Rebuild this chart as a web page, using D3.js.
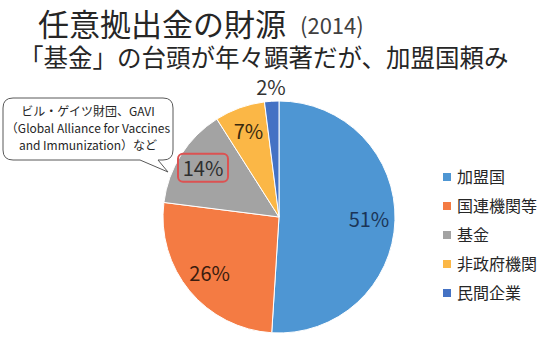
<!DOCTYPE html>
<html>
<head>
<meta charset="utf-8">
<script src="https://cdn.jsdelivr.net/npm/d3@7"></script>
<style>
body { margin: 0; background: #fff; }
svg { display: block; font-family: "Noto Sans CJK JP", "Noto Sans", sans-serif; }
.title { font-size: 31px; fill: #262626; }
.year { font-size: 22px; fill: #404040; }
.subtitle { font-size: 24.5px; fill: #262626; }
.legendText { font-size: 16px; fill: #262626; }
.pctLabel { font-size: 20px; }
.noteText { font-size: 12px; fill: #262626; }
</style>
</head>
<body>
<div id="chart"></div>
<script>
/* data */
var categories = ["加盟国", "国連機関等", "基金", "非政府機関", "民間企業"]
var shares = [51, 26, 14, 7, 2]
var colors = ["#4E96D3", "#F47B43", "#A3A3A3", "#FBB746", "#4472C4"]
var labelColors = ["#1B3557", "#3A1C0E", "#2E2E2E", "#3A2A0E", "#333333"]
var noteLines = ["ビル・ゲイツ財団、GAVI", "（Global Alliance for Vaccines", "and Immunization）など"]

var width = 557, height = 351
var cx = 279, cy = 217, radius = 116

var svg = d3.select("#chart").append("svg")
  .attr("width", width)
  .attr("height", height)

/* titles */
svg.append("text")
  .attr("class", "title")
  .attr("x", 38)
  .attr("y", 36)
  .text("任意拠出金の財源")
svg.append("text")
  .attr("class", "year")
  .attr("x", 300)
  .attr("y", 34)
  .text("(2014)")
svg.append("text")
  .attr("class", "subtitle")
  .attr("x", 19)
  .attr("y", 67)
  .text("「基金」の台頭が年々顕著だが、加盟国頼み")

/* pie */
var pie = d3.pie().sort(null).value(function(d) { return d })
var arcs = pie(shares)
var arc = d3.arc().innerRadius(0).outerRadius(radius)
var inLabelArc = d3.arc().innerRadius(90).outerRadius(90)
var outLabelArc = d3.arc().innerRadius(129).outerRadius(129)

var pieG = svg.append("g")
  .attr("transform", "translate(" + cx + "," + cy + ")")

pieG.selectAll("path")
  .data(arcs)
  .enter()
  .append("path")
  .attr("d", arc)
  .attr("fill", function(d, i) { return colors[i] })
  .attr("stroke", "#fff")
  .attr("stroke-width", 1)

function labelPos(d) {
  return d.data < 5 ? outLabelArc.centroid(d) : inLabelArc.centroid(d)
}

/* red highlight box around the fund share */
var fundIdx = categories.indexOf("基金")
var fundPos = labelPos(arcs[fundIdx])
pieG.append("rect")
  .attr("x", fundPos[0] - 25)
  .attr("y", fundPos[1] - 15)
  .attr("width", 50)
  .attr("height", 28)
  .attr("rx", 5)
  .attr("fill", "none")
  .attr("stroke", "#DC5252")
  .attr("stroke-width", 2)

pieG.selectAll(".pctLabel")
  .data(arcs)
  .enter()
  .append("text")
  .attr("class", "pctLabel")
  .attr("x", function(d) { return labelPos(d)[0] })
  .attr("y", function(d) { return labelPos(d)[1] })
  .attr("dy", "0.35em")
  .attr("text-anchor", "middle")
  .attr("fill", function(d, i) { return labelColors[i] })
  .text(function(d) { return d.data + "%" })

/* callout */
var callout = svg.append("g")
callout.append("path")
  .attr("d", "M13,98 H163 Q173,98 173,108 V150 Q173,160 163,160 H158 L168,172 L140,160 H13 Q3,160 3,150 V108 Q3,98 13,98 Z")
  .attr("fill", "#fff")
  .attr("stroke", "#595959")
  .attr("stroke-width", 1)
callout.selectAll("text")
  .data(noteLines)
  .enter()
  .append("text")
  .attr("class", "noteText")
  .attr("x", 88)
  .attr("y", function(d, i) { return 116 + i * 17 })
  .attr("text-anchor", "middle")
  .text(function(d) { return d })

/* legend */
var legendY = d3.scalePoint()
  .domain(categories)
  .range([177, 293])
var legend = svg.selectAll(".legendItem")
  .data(categories)
  .enter()
  .append("g")
  .attr("class", "legendItem")
  .attr("transform", function(d) { return "translate(443," + legendY(d) + ")" })
legend.append("rect")
  .attr("x", 0)
  .attr("y", -4)
  .attr("width", 8)
  .attr("height", 8)
  .attr("fill", function(d, i) { return colors[i] })
legend.append("text")
  .attr("class", "legendText")
  .attr("x", 14)
  .attr("y", 0)
  .attr("dy", "0.35em")
  .text(function(d) { return d })
</script>
</body>
</html>
